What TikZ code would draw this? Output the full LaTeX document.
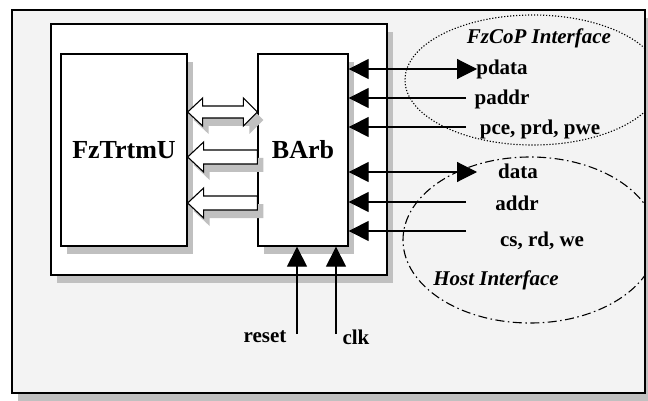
\documentclass[tikz,border=0pt]{standalone}
\usepackage{fontspec}
\setmainfont{Liberation Serif}
\usepackage{tikz}
\usetikzlibrary{calc}
\usetikzlibrary{arrows.meta}
\usetikzlibrary{shadows}
\definecolor{panelgray}{RGB}{243,243,243}
\definecolor{shadegray}{RGB}{192,192,192}
\newcommand{\bigtxt}{\fontsize{26}{30}\selectfont\bfseries}
\newcommand{\smalltxt}{\fontsize{21}{25}\selectfont\bfseries}
\tikzset{mshade/.style={drop shadow={shadow xshift=6pt,shadow yshift=-8pt,fill=shadegray,opacity=1}}}
\tikzset{mbox/.style={draw,line width=1.3pt,fill=white,inner sep=0pt,mshade}}
\tikzset{mlabel/.style={inner sep=0pt,font=\smalltxt}}
\tikzset{msig/.style={line width=1.1pt,-{Triangle[length=20pt,width=20pt]}}}
\tikzset{mduplex/.style={line width=1.1pt,{Triangle[length=20pt,width=20pt]}-{Triangle[length=20pt,width=20pt]}}}
\tikzset{mbus/.style={draw,line width=1.1pt,fill=white,line join=miter,mshade}}
% hollow bus arrows between the two blocks
\newcommand{\duplexbus}[1]{%
  \draw[mbus] (fz.east |- 0,#1) -- ++(15,-14) -- ++(0,8)
    -- ($(barb.west |- 0,#1)+(-14,-6)$) -- ++(0,-8) -- (barb.west |- 0,#1)
    -- ++(-14,14) -- ++(0,-8) -- ($(fz.east |- 0,#1)+(15,6)$) -- ++(0,8) -- cycle;}
\newcommand{\simplexbus}[1]{%
  \draw[mbus] (fz.east |- 0,#1) -- ++(16,-15) -- ++(0,8)
    -- ($(barb.west |- 0,#1)+(0,-7)$) -- ++(0,14)
    -- ($(fz.east |- 0,#1)+(16,7)$) -- ++(0,8) -- cycle;}

\begin{document}
\begin{tikzpicture}[x=1pt,y=-1pt]
\useasboundingbox (0,0) rectangle (648,401);

\node[mbox,fill=panelgray,minimum width=633pt,minimum height=383pt,
  drop shadow={shadow xshift=15pt,shadow yshift=-8pt,fill=shadegray,opacity=1}] (panel) at (328.5,201.5) {};
\node[mbox,minimum width=336pt,minimum height=251pt] (chip) at (219,149.5) {};
\node[mbox,minimum width=126pt,minimum height=192pt,font=\bigtxt] (fz) at (124,150) {FzTrtmU};
\node[mbox,minimum width=90pt,minimum height=192pt,font=\bigtxt] (barb) at (303,150) {BArb};

\duplexbus{112}
\simplexbus{157}
\simplexbus{203}

% interface regions
\begin{scope}
\clip (panel.south west) rectangle (panel.north east);
\draw[line width=1.1pt,dash pattern=on 1.2pt off 1.8pt] (533,80) ellipse [x radius=128,y radius=65];
\draw[line width=1.1pt,dash pattern=on 9pt off 3.5pt on 1.5pt off 3.5pt] (530,240) ellipse [x radius=127,y radius=83];
\end{scope}

\node[mlabel,font=\smalltxt\itshape] (fcopcap) at (539,38) {FzCoP Interface};
\node[mlabel] (pdata) at (502,69) {pdata};
\node[mlabel] (paddr) at (502,99) {paddr};
\node[mlabel] (pctl) at (540,129) {pce, prd, pwe};
\node[mlabel] (data) at (518,171) {data};
\node[mlabel] (addr) at (517,203) {addr};
\node[mlabel] (hctl) at (542,241) {cs, rd, we};
\node[mlabel,font=\smalltxt\itshape] (hostcap) at (496,280) {Host Interface};
\node[mlabel] (reset) at (265,337) {reset};
\node[mlabel] (clk) at (356,337) {clk};

\coordinate (pdatae) at (477,69);
\coordinate (paddre) at (466,98);
\coordinate (pctle) at (466,127);
\coordinate (datae) at (477,172);
\coordinate (addre) at (466,202);
\coordinate (hctle) at (466,231);
\coordinate (resete) at (297,334);
\coordinate (clke) at (336,334);

\draw[mduplex] (barb.east |- pdatae) -- (pdatae);
\draw[msig] (paddre) -- (barb.east |- paddre);
\draw[msig] (pctle) -- (barb.east |- pctle);
\draw[mduplex] (barb.east |- datae) -- (datae);
\draw[msig] (addre) -- (barb.east |- addre);
\draw[msig] (hctle) -- (barb.east |- hctle);

\draw[msig] (resete) -- (barb.south -| resete);
\draw[msig] (clke) -- (barb.south -| clke);

\end{tikzpicture}
\end{document}
